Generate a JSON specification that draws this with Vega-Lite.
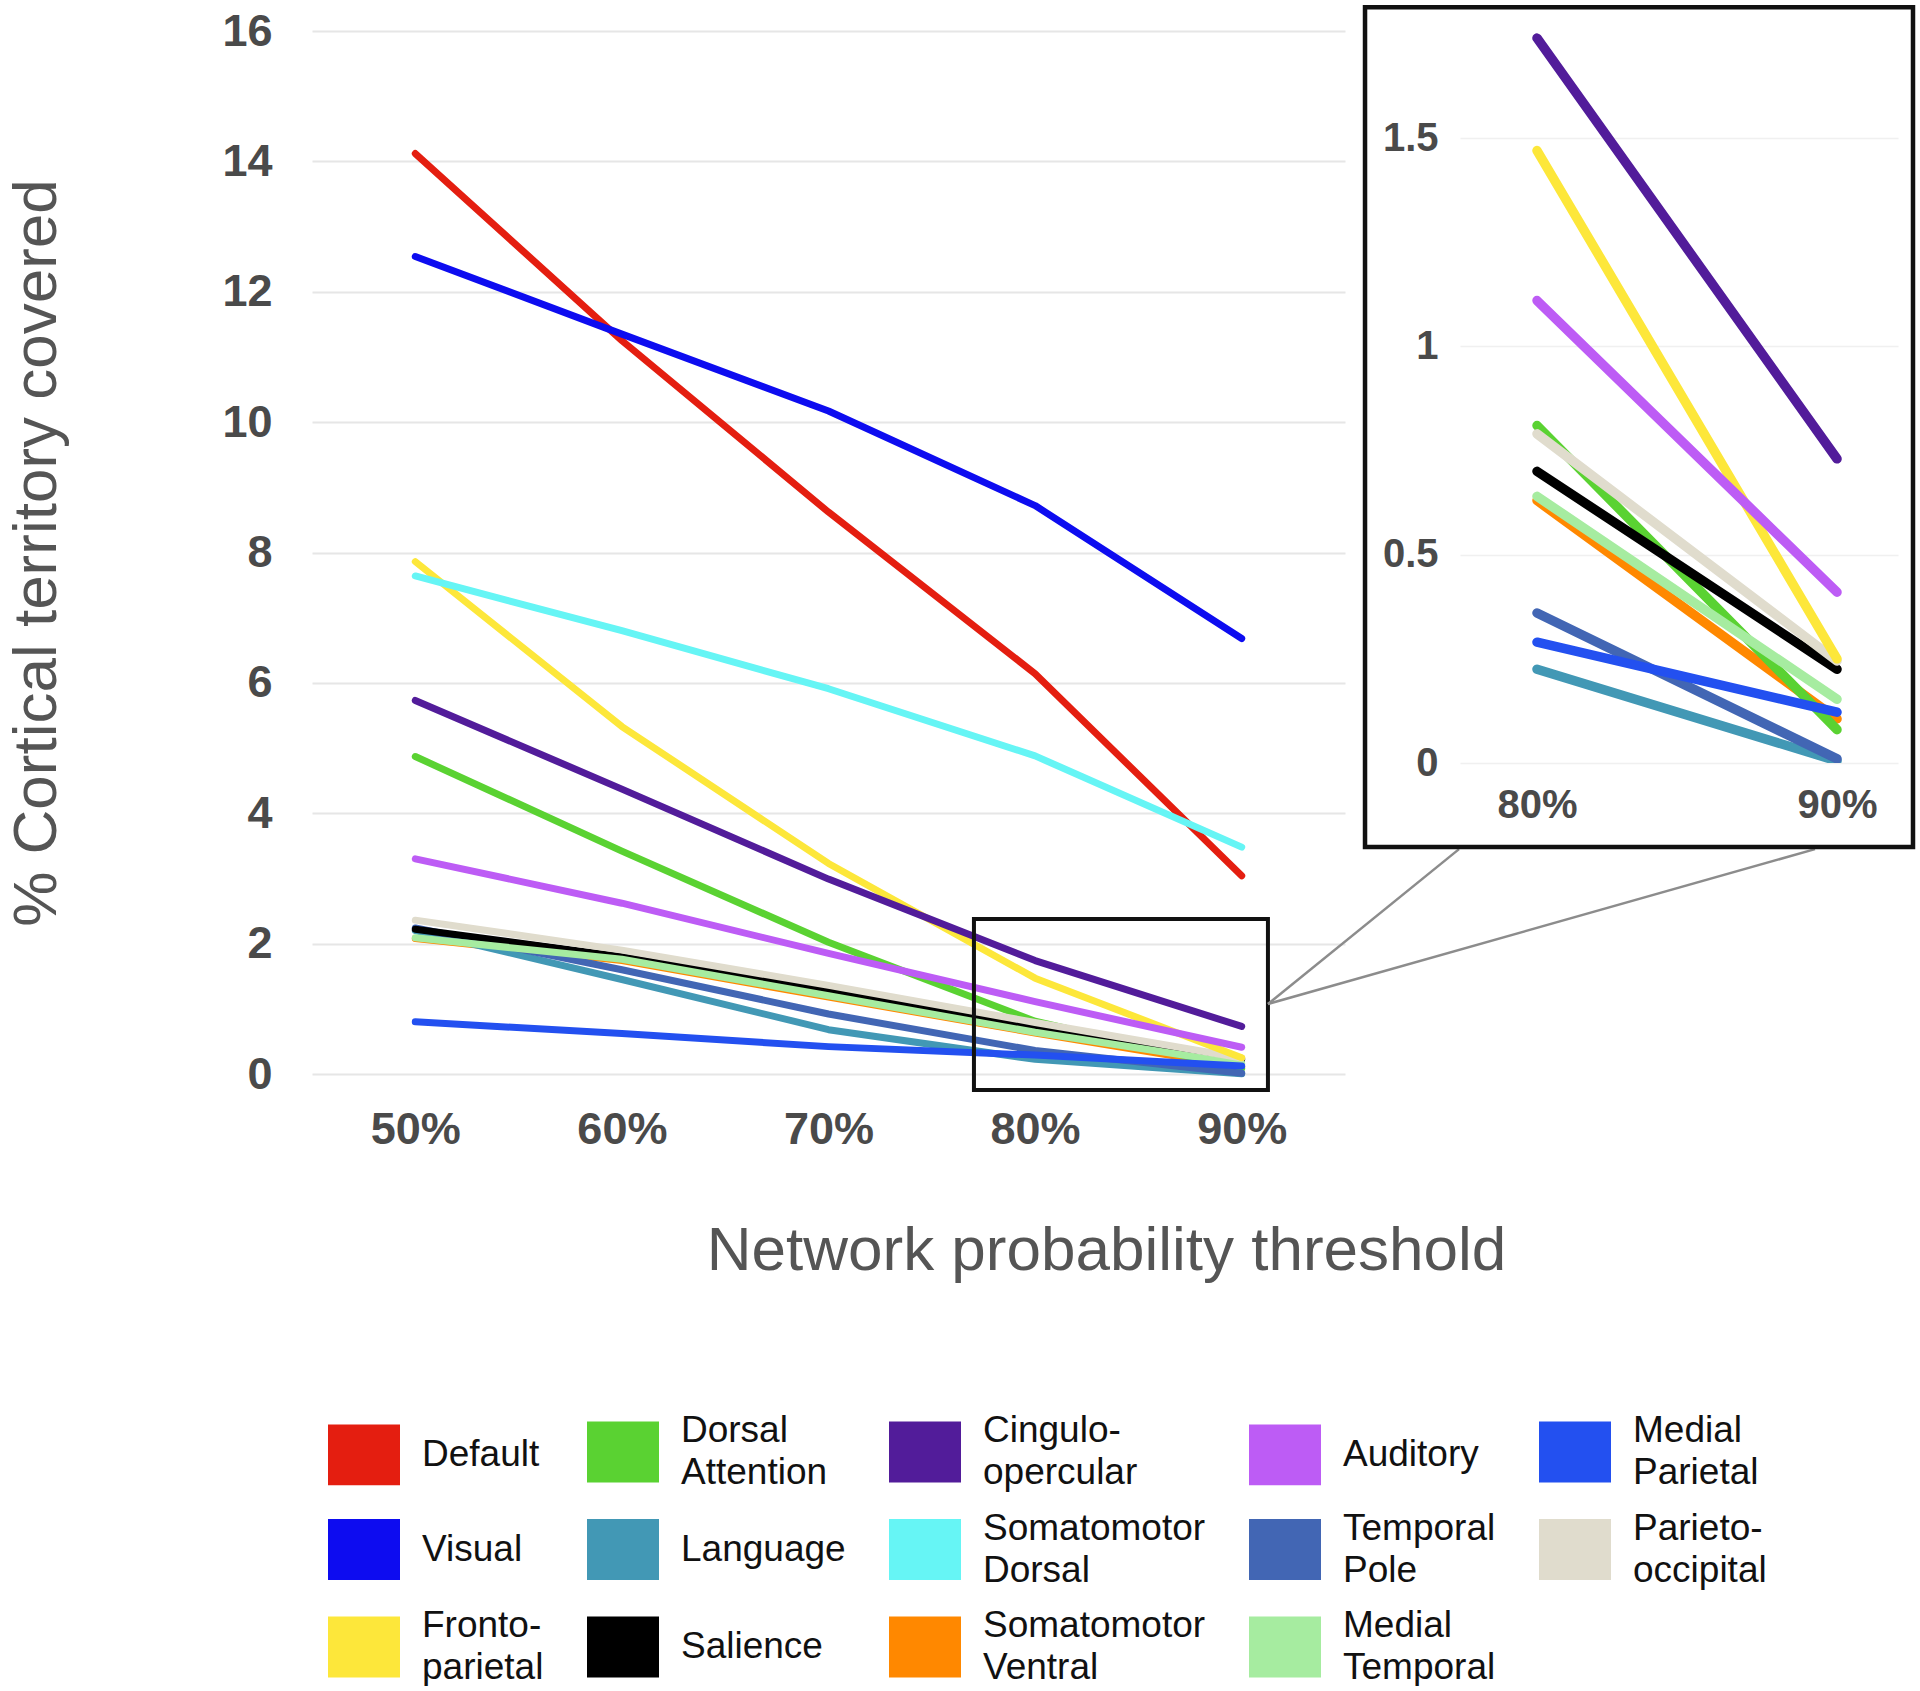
{
  "$schema": "https://vega.github.io/schema/vega-lite/v6.json",
  "background": "white",
  "padding": {"left": 4, "top": 5, "right": 0, "bottom": 0},
  "bounds": "flush",
  "spacing": 115,
  "config": {"view": {"stroke": null}, "font": "Liberation Sans"},
  "datasets": {
    "nets": [
      {"network": "Somatomotor Ventral", "threshold": 50, "pct": 2.08},
      {"network": "Somatomotor Ventral", "threshold": 60, "pct": 1.74},
      {"network": "Somatomotor Ventral", "threshold": 70, "pct": 1.18},
      {"network": "Somatomotor Ventral", "threshold": 80, "pct": 0.63},
      {"network": "Somatomotor Ventral", "threshold": 90, "pct": 0.106},
      {"network": "Dorsal Attention", "threshold": 50, "pct": 4.87},
      {"network": "Dorsal Attention", "threshold": 60, "pct": 3.42},
      {"network": "Dorsal Attention", "threshold": 70, "pct": 2.02},
      {"network": "Dorsal Attention", "threshold": 80, "pct": 0.81},
      {"network": "Dorsal Attention", "threshold": 90, "pct": 0.08},
      {"network": "Language", "threshold": 50, "pct": 2.2},
      {"network": "Language", "threshold": 60, "pct": 1.45},
      {"network": "Language", "threshold": 70, "pct": 0.68},
      {"network": "Language", "threshold": 80, "pct": 0.225},
      {"network": "Language", "threshold": 90, "pct": 0.005},
      {"network": "Temporal Pole", "threshold": 50, "pct": 2.24},
      {"network": "Temporal Pole", "threshold": 60, "pct": 1.6},
      {"network": "Temporal Pole", "threshold": 70, "pct": 0.92},
      {"network": "Temporal Pole", "threshold": 80, "pct": 0.36},
      {"network": "Temporal Pole", "threshold": 90, "pct": 0.01},
      {"network": "Salience", "threshold": 50, "pct": 2.22},
      {"network": "Salience", "threshold": 60, "pct": 1.8},
      {"network": "Salience", "threshold": 70, "pct": 1.28},
      {"network": "Salience", "threshold": 80, "pct": 0.7},
      {"network": "Salience", "threshold": 90, "pct": 0.225},
      {"network": "Medial Temporal", "threshold": 50, "pct": 2.09},
      {"network": "Medial Temporal", "threshold": 60, "pct": 1.76},
      {"network": "Medial Temporal", "threshold": 70, "pct": 1.2},
      {"network": "Medial Temporal", "threshold": 80, "pct": 0.64},
      {"network": "Medial Temporal", "threshold": 90, "pct": 0.153},
      {"network": "Parieto-occipital", "threshold": 50, "pct": 2.36},
      {"network": "Parieto-occipital", "threshold": 60, "pct": 1.9},
      {"network": "Parieto-occipital", "threshold": 70, "pct": 1.36},
      {"network": "Parieto-occipital", "threshold": 80, "pct": 0.79},
      {"network": "Parieto-occipital", "threshold": 90, "pct": 0.245},
      {"network": "Medial Parietal", "threshold": 50, "pct": 0.8},
      {"network": "Medial Parietal", "threshold": 60, "pct": 0.62},
      {"network": "Medial Parietal", "threshold": 70, "pct": 0.42},
      {"network": "Medial Parietal", "threshold": 80, "pct": 0.29},
      {"network": "Medial Parietal", "threshold": 90, "pct": 0.122},
      {"network": "Fronto-parietal", "threshold": 50, "pct": 7.86},
      {"network": "Fronto-parietal", "threshold": 60, "pct": 5.33},
      {"network": "Fronto-parietal", "threshold": 70, "pct": 3.23},
      {"network": "Fronto-parietal", "threshold": 80, "pct": 1.47},
      {"network": "Fronto-parietal", "threshold": 90, "pct": 0.25},
      {"network": "Auditory", "threshold": 50, "pct": 3.3},
      {"network": "Auditory", "threshold": 60, "pct": 2.62},
      {"network": "Auditory", "threshold": 70, "pct": 1.85},
      {"network": "Auditory", "threshold": 80, "pct": 1.11},
      {"network": "Auditory", "threshold": 90, "pct": 0.41},
      {"network": "Cingulo-opercular", "threshold": 50, "pct": 5.73},
      {"network": "Cingulo-opercular", "threshold": 60, "pct": 4.37},
      {"network": "Cingulo-opercular", "threshold": 70, "pct": 2.99},
      {"network": "Cingulo-opercular", "threshold": 80, "pct": 1.74},
      {"network": "Cingulo-opercular", "threshold": 90, "pct": 0.73},
      {"network": "Default", "threshold": 50, "pct": 14.12},
      {"network": "Default", "threshold": 60, "pct": 11.25},
      {"network": "Default", "threshold": 70, "pct": 8.62},
      {"network": "Default", "threshold": 80, "pct": 6.14},
      {"network": "Default", "threshold": 90, "pct": 3.04},
      {"network": "Somatomotor Dorsal", "threshold": 50, "pct": 7.64},
      {"network": "Somatomotor Dorsal", "threshold": 60, "pct": 6.8},
      {"network": "Somatomotor Dorsal", "threshold": 70, "pct": 5.91},
      {"network": "Somatomotor Dorsal", "threshold": 80, "pct": 4.88},
      {"network": "Somatomotor Dorsal", "threshold": 90, "pct": 3.48},
      {"network": "Visual", "threshold": 50, "pct": 12.54},
      {"network": "Visual", "threshold": 60, "pct": 11.35},
      {"network": "Visual", "threshold": 70, "pct": 10.17},
      {"network": "Visual", "threshold": 80, "pct": 8.72},
      {"network": "Visual", "threshold": 90, "pct": 6.68}
    ]
  },
  "resolve": {"scale": {"color": "shared"}},
  "hconcat": [
    {
      "width": 1033,
      "height": 1043,
      "layer": [
        {
          "data": {"name": "nets"},
          "mark": {"type": "line", "strokeWidth": 7, "strokeCap": "round", "strokeJoin": "round"},
          "encoding": {
            "x": {
              "field": "threshold", "type": "quantitative",
              "scale": {"domain": [45, 95], "nice": false, "zero": false},
              "axis": {
                "values": [50, 60, 70, 80, 90], "labelExpr": "datum.value + '%'",
                "grid": false, "ticks": false, "domain": false,
                "labelFontSize": 45, "labelFontWeight": "bold", "labelColor": "#4a4a4a", "labelPadding": 33,
                "title": "Network probability threshold", "titleFontSize": 62, "titleFontWeight": "normal",
                "titleColor": "#555555", "titleX": 794, "titleY": 195, "titleBaseline": "alphabetic", "titleAlign": "center"
              }
            },
            "y": {
              "field": "pct", "type": "quantitative",
              "scale": {"domain": [0, 16], "nice": false},
              "axis": {
                "values": [0, 2, 4, 6, 8, 10, 12, 14, 16], "labelExpr": "'' + datum.value",
                "grid": true, "gridColor": "#e6e6e6", "gridWidth": 2,
                "ticks": false, "domain": false,
                "labelFontSize": 45, "labelFontWeight": "bold", "labelColor": "#4a4a4a", "labelPadding": 40,
                "title": "% Cortical territory covered", "titleFontSize": 62, "titleFontWeight": "normal",
                "titleColor": "#555555", "titleX": -257, "titleBaseline": "alphabetic"
              }
            },
            "color": {
              "field": "network", "type": "nominal",
              "scale": {
                "domain": ["Default", "Visual", "Fronto-parietal",
                           "Dorsal Attention", "Language", "Salience",
                           "Cingulo-opercular", "Somatomotor Dorsal", "Somatomotor Ventral",
                           "Auditory", "Temporal Pole", "Medial Temporal",
                           "Medial Parietal", "Parieto-occipital"],
                "range": ["#e41e10", "#0d0cf0", "#fde73a",
                          "#5ad232", "#4298b5", "#000000",
                          "#521c9a", "#66f5f5", "#ff8800",
                          "#bd5cf5", "#4266b4", "#a6eca0",
                          "#2350f0", "#e0dccd"]
              },
              "legend": {
                "orient": "none", "legendX": 16, "legendY": 1385,
                "columns": 5, "title": null, "padding": 0,
                "symbolType": "M-1,-0.84L1,-0.84L1,0.84L-1,0.84Z", "symbolSize": 4900,
                "labelFontSize": 37, "labelFont": "Liberation Sans", "labelColor": "#111111",
                "labelOffset": 22, "columnPadding": 40, "rowPadding": 18.5, "labelLimit": 400,
                "labelBaseline": "middle",
                "labelExpr": "split(replace(datum.label, '-', '- '), ' ')",
                "encode": {
                  "symbols": {"update": {
                    "fill": {"scale": "color", "field": "value"},
                    "fillOpacity": {"value": 1},
                    "stroke": {"value": "rgba(0,0,0,0.3)"},
                    "strokeWidth": {"value": 2}
                  }},
                  "labels": {"update": {
                    "lineHeight": {"value": 42},
                    "dy": {"signal": "indexof(datum.value, ' ') >= 0 || indexof(datum.value, '-') >= 0 ? -21 : 0"}
                  }}
                }
              }
            }
          }
        },
        {
          "data": {"values": [{}]},
          "mark": {"type": "rect", "fillOpacity": 0, "stroke": "#111111", "strokeWidth": 4},
          "encoding": {
            "x": {"datum": 77.04, "type": "quantitative"},
            "x2": {"datum": 91.27},
            "y": {"datum": -0.245, "type": "quantitative"},
            "y2": {"datum": 2.378}
          }
        },
        {
          "data": {"values": [{}]},
          "mark": {"type": "rule", "color": "#8c8c8c", "strokeWidth": 2.5},
          "encoding": {
            "x": {"datum": 91.27, "type": "quantitative"},
            "y": {"datum": 1.074, "type": "quantitative"},
            "x2": {"datum": 100.52},
            "y2": {"datum": 3.45}
          }
        },
        {
          "data": {"values": [{}]},
          "mark": {"type": "rule", "color": "#8c8c8c", "strokeWidth": 2.5},
          "encoding": {
            "x": {"datum": 91.27, "type": "quantitative"},
            "y": {"datum": 1.074, "type": "quantitative"},
            "x2": {"datum": 117.75},
            "y2": {"datum": 3.45}
          }
        }
      ]
    },
    {
      "width": 438,
      "height": 732,
      "layer": [
        {
          "data": {"name": "nets"},
          "transform": [
            {"filter": {"field": "threshold", "oneOf": [80, 90]}},
            {"filter": {"not": {"field": "network", "oneOf": ["Default", "Visual", "Somatomotor Dorsal"]}}}
          ],
          "mark": {"type": "line", "strokeWidth": 9.5, "strokeCap": "round", "clip": true},
          "encoding": {
            "x": {
              "field": "threshold", "type": "quantitative",
              "scale": {"domain": [77.433, 92.033], "nice": false, "zero": false},
              "axis": {
                "values": [80, 90], "labelExpr": "datum.value + '%'",
                "grid": false, "ticks": false, "domain": false,
                "labelFontSize": 40, "labelFontWeight": "bold", "labelColor": "#4a4a4a", "labelPadding": 22,
                "title": null
              }
            },
            "y": {
              "field": "pct", "type": "quantitative",
              "scale": {"domain": [0, 1.757], "nice": false},
              "axis": {
                "values": [0, 0.5, 1, 1.5], "labelExpr": "'' + datum.value",
                "grid": true, "gridColor": "#f0f0f0", "gridWidth": 1.5,
                "ticks": false, "domain": false,
                "labelFontSize": 40, "labelFontWeight": "bold", "labelColor": "#4a4a4a", "labelPadding": 22,
                "title": null
              }
            },
            "color": {
              "field": "network", "type": "nominal",
              "scale": {
                "domain": ["Default", "Visual", "Fronto-parietal",
                           "Dorsal Attention", "Language", "Salience",
                           "Cingulo-opercular", "Somatomotor Dorsal", "Somatomotor Ventral",
                           "Auditory", "Temporal Pole", "Medial Temporal",
                           "Medial Parietal", "Parieto-occipital"],
                "range": ["#e41e10", "#0d0cf0", "#fde73a",
                          "#5ad232", "#4298b5", "#000000",
                          "#521c9a", "#66f5f5", "#ff8800",
                          "#bd5cf5", "#4266b4", "#a6eca0",
                          "#2350f0", "#e0dccd"]
              }
            }
          }
        },
        {
          "data": {"values": [{}]},
          "mark": {"type": "rect", "fillOpacity": 0, "stroke": "#111111", "strokeWidth": 4.5},
          "encoding": {
            "x": {"datum": 74.267, "type": "quantitative"},
            "x2": {"datum": 92.533},
            "y": {"datum": -0.2016, "type": "quantitative"},
            "y2": {"datum": 1.814}
          }
        }
      ]
    }
  ]
}
